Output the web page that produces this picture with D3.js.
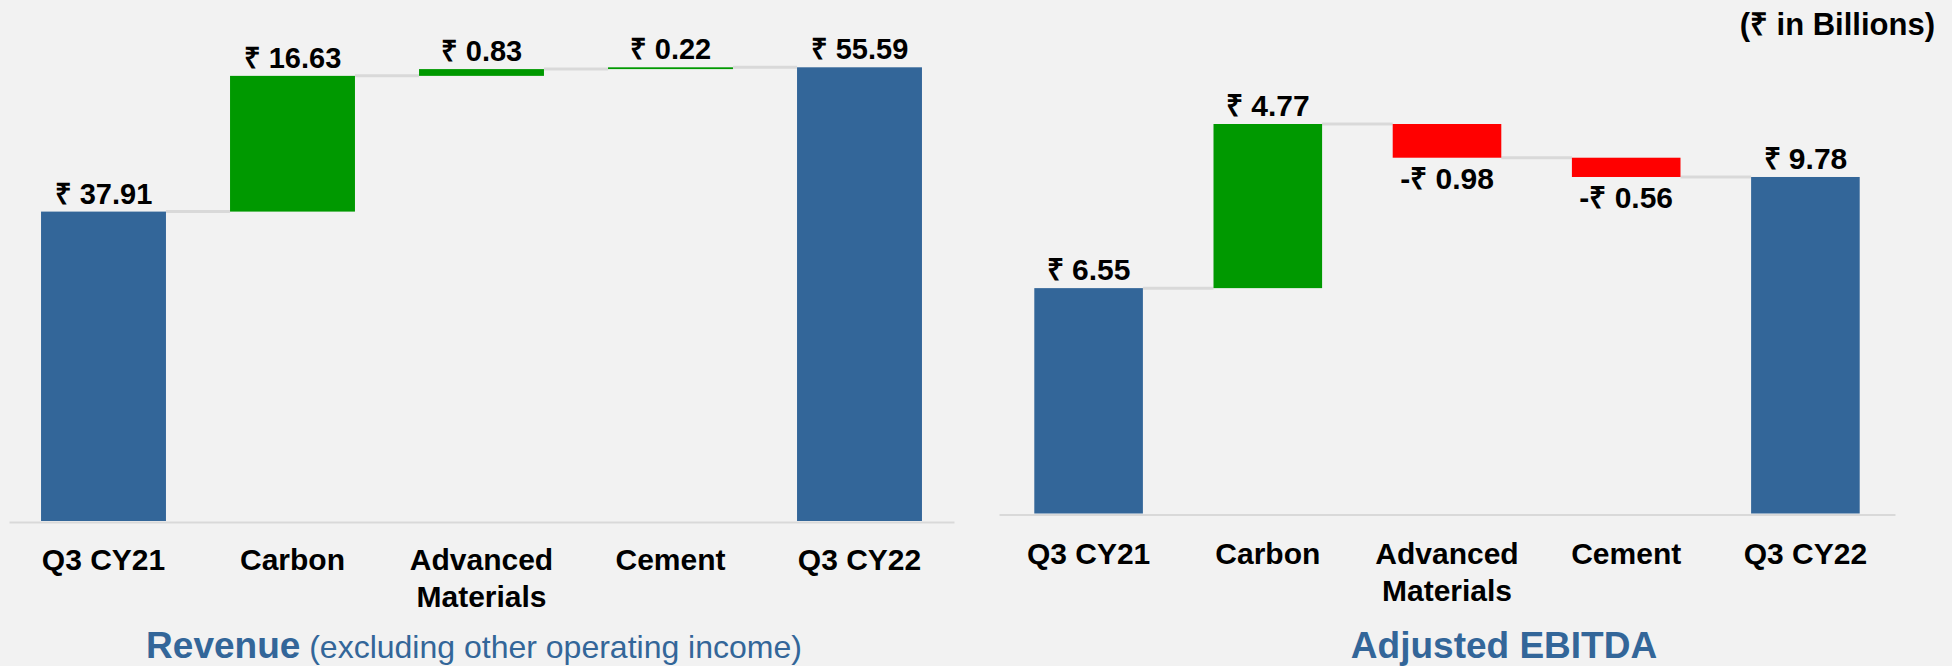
<!DOCTYPE html>
<html>
<head>
<meta charset="utf-8">
<script src="https://cdn.jsdelivr.net/npm/d3@7"></script>
<style>
  body { margin: 0; background: #f2f2f2; }
  svg { display: block; }
  text { font-family: "Liberation Sans", Arial, sans-serif; }
</style>
</head>
<body>
<div id="myChart"></div>
<script>
// Categories shared by both waterfalls
var categories = ["Q3 CY21", "Carbon", "Advanced Materials", "Cement", "Q3 CY22"];
var tickLabels = [["Q3 CY21"], ["Carbon"], ["Advanced", "Materials"], ["Cement"], ["Q3 CY22"]];
// "total" bars start at zero, "delta" bars float on the running sum
var barKinds = ["total", "delta", "delta", "delta", "total"];

// Values in ₹ billions
var revenueValues = [37.91, 16.63, 0.83, 0.22, 55.59];
var ebitdaValues = [6.55, 4.77, -0.98, -0.56, 9.78];

var blue = "#336699", green = "#009900", red = "#ff0000", grey = "#d9d9d9";

var svg = d3.select("#myChart")
    .append("svg")
    .attr("width", 1952)
    .attr("height", 666);

svg.append("rect")
    .attr("width", 1952)
    .attr("height", 666)
    .attr("fill", "#f2f2f2");

function drawWaterfall(opts) {
    var values = opts.values;

    // Build start / end of each bar from running sum
    var rows = [];
    var running = 0;
    values.forEach(function (v, i) {
        var start, end;
        if (barKinds[i] === "total") {
            start = 0; end = v; running = v;
        } else {
            start = running; end = running + v; running = end;
        }
        rows.push({ cat: categories[i], value: v, start: start, end: end, kind: barKinds[i] });
    });

    var x = d3.scaleBand()
        .domain(categories)
        .range(opts.xRange)
        .paddingInner(opts.pad)
        .paddingOuter(opts.pad / 2);

    var y = d3.scaleLinear()
        .domain([0, d3.max(rows, function (d) { return Math.max(d.start, d.end); })])
        .range(opts.yRange);

    var g = svg.append("g");

    // Connector lines between bars
    rows.slice(0, -1).forEach(function (d, i) {
        g.append("line")
            .attr("x1", x(d.cat) + x.bandwidth())
            .attr("x2", x(categories[i + 1]))
            .attr("y1", y(d.end))
            .attr("y2", y(d.end))
            .attr("stroke", grey)
            .attr("stroke-width", 3);
    });

    // Bars
    g.selectAll(".bar")
        .data(rows)
        .enter()
        .append("rect")
        .attr("class", "bar")
        .attr("x", function (d) { return x(d.cat); })
        .attr("width", x.bandwidth())
        .attr("y", function (d) { return y(Math.max(d.start, d.end)); })
        .attr("height", function (d) { return Math.abs(y(d.start) - y(d.end)); })
        .attr("fill", function (d) {
            if (d.kind === "total") return blue;
            return d.value >= 0 ? green : red;
        });

    // Value labels
    g.selectAll(".val")
        .data(rows)
        .enter()
        .append("text")
        .attr("class", "val")
        .attr("x", function (d) { return x(d.cat) + x.bandwidth() / 2; })
        .attr("y", function (d) {
            if (d.value < 0) return y(d.end) + 31;
            return y(d.end) - 8;
        })
        .attr("text-anchor", "middle")
        .style("font-size", opts.labelSize + "px")
        .style("font-weight", "bold")
        .attr("fill", "#000")
        .text(function (d) {
            return (d.value < 0 ? "-₹ " : "₹ ") + Math.abs(d.value).toFixed(2);
        });

    // x axis, its domain line is the grey baseline
    var axis = g.append("g")
        .attr("transform", "translate(0," + (opts.yRange[0] + 1) + ")")
        .call(d3.axisBottom(x).tickSize(0).tickSizeOuter(0));

    axis.select(".domain")
        .attr("stroke", grey)
        .attr("stroke-width", 2);

    axis.selectAll(".tick text").remove();
    axis.selectAll(".tick")
        .append("text")
        .attr("text-anchor", "middle")
        .attr("fill", "#000")
        .style("font-size", "30px")
        .style("font-weight", "bold")
        .each(function (d, i) {
            var t = d3.select(this);
            tickLabels[i].forEach(function (line, j) {
                t.append("tspan")
                    .attr("x", 0)
                    .attr("y", opts.tickY + j * 37)
                    .text(line);
            });
        });

    // Title under the chart
    var title = svg.append("text")
        .attr("x", opts.titleX)
        .attr("y", 658)
        .attr("text-anchor", "middle")
        .attr("fill", blue);
    title.append("tspan")
        .style("font-size", "37px")
        .style("font-weight", "bold")
        .text(opts.title);
    if (opts.subtitle) {
        title.append("tspan")
            .style("font-size", "32px")
            .text(" " + opts.subtitle);
    }
}

drawWaterfall({
    values: revenueValues,
    xRange: [9, 954],
    pad: 0.339,
    yRange: [521, 67.3],
    labelSize: 29,
    tickY: 48,
    title: "Revenue",
    subtitle: "(excluding other operating income)",
    titleX: 474
});

drawWaterfall({
    values: ebitdaValues,
    xRange: [999, 1895],
    pad: 0.394,
    yRange: [513.5, 124],
    labelSize: 30,
    tickY: 49,
    title: "Adjusted EBITDA",
    titleX: 1504
});

// Unit note at top right
svg.append("text")
    .attr("x", 1935)
    .attr("y", 35)
    .attr("text-anchor", "end")
    .style("font-size", "31px")
    .style("font-weight", "bold")
    .attr("fill", "#000")
    .text("(₹ in Billions)");
</script>
</body>
</html>
